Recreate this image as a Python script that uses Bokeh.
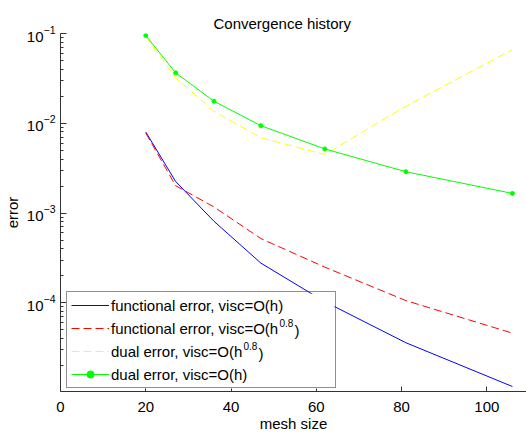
import math
from bokeh.plotting import figure
from bokeh.models import Range1d, FixedTicker, Legend, LegendItem, Label, BoxAnnotation
from bokeh.embed import file_html
from bokeh.resources import INLINE

# ---- data ----
mesh_size = [20, 27, 36, 47, 62, 81, 106]
functional_visc_h = [8.0e-3, 2.25e-3, 8.1e-4, 2.77e-4, 1.03e-4, 3.6e-5, 1.17e-5]
functional_visc_h08 = [7.8e-3, 2.02e-3, 1.17e-3, 5.2e-4, 2.5e-4, 1.06e-4, 4.6e-5]
dual_visc_h08 = [9.3e-2, 3.2e-2, 1.36e-2, 6.9e-3, 4.5e-3, 1.55e-2, 6.6e-2]
dual_visc_h = [9.5e-2, 3.65e-2, 1.76e-2, 9.4e-3, 5.18e-3, 2.89e-3, 1.655e-3]

x_ticks = [0, 20, 40, 60, 80, 100]
y_ticks = [1e-5, 1e-4, 1e-3, 1e-2, 1e-1]
y_minor = [k * t for t in [1e-5, 1e-4, 1e-3, 1e-2] for k in range(2, 10)]

title_text = "Convergence history"
x_label = "mesh size"
y_label = "error"
legend_labels = ["functional error, visc=O(h)", "functional error, visc=O(h",
                 "dual error, visc=O(h", "dual error, visc=O(h)"]
sup_text = "0.8"

FONT = "Liberation Sans"
X0, X1 = 0, 109.3
Y0, Y1 = 1.03e-5, 0.1

# layout (pixels)
W, H = 526, 434
B_LEFT, B_RIGHT, B_TOP, B_BOTTOM = 60, 0, 33, 42
FRAME_W = W - B_LEFT - B_RIGHT
FRAME_H = H - B_TOP - B_BOTTOM

LEG_X, LEG_Y = 6, 3            # legend bottom-left, px from frame bottom-left
LEG_PAD, LEG_GW, LEG_GH, LEG_SP, LEG_LW, LEG_ST = 4, 38, 18, 5, 220, 2
LEG_W = 2 * LEG_PAD + LEG_GW + LEG_ST + LEG_LW
LEG_H = 2 * LEG_PAD + 4 * LEG_GH + 3 * LEG_SP


def px_to_x(px):
    return X0 + px * (X1 - X0) / FRAME_W


def px_to_y(py):
    l0, l1 = math.log10(Y0), math.log10(Y1)
    return 10 ** (l0 + py * (l1 - l0) / FRAME_H)


p = figure(width=W, height=H, x_range=Range1d(X0, X1), y_range=Range1d(Y0, Y1),
           y_axis_type="log", output_backend="svg", toolbar_location=None,
           min_border_left=B_LEFT, min_border_right=B_RIGHT,
           min_border_top=B_TOP, min_border_bottom=B_BOTTOM)

p.outline_line_color = None
p.grid.visible = False
p.background_fill_color = "white"
p.border_fill_color = "white"

# title
p.title.text = title_text
p.title.text_font = FONT
p.title.text_font_size = "15px"
p.title.text_font_style = "normal"
p.title.text_color = "black"
p.title.align = "left"
p.title.offset = 153
p.title.standoff = 4

# axes
for ax in (p.xaxis[0], p.yaxis[0]):
    ax.axis_line_color = "#333333"
    ax.major_tick_line_color = "#333333"
    ax.minor_tick_line_color = "#333333"
    ax.major_label_text_font = FONT
    ax.major_label_text_font_size = "15px"
    ax.major_label_text_color = "black"
    ax.axis_label_text_font = FONT
    ax.axis_label_text_font_size = "15px"
    ax.axis_label_text_font_style = "normal"
    ax.axis_label_text_color = "black"
    ax.major_tick_out = 0

p.xaxis.ticker = FixedTicker(ticks=x_ticks)
p.xaxis.major_tick_in = 5
p.xaxis.minor_tick_line_color = None
p.xaxis.major_label_standoff = 10
p.xaxis.axis_label = x_label
p.xaxis.axis_label_standoff = 0

p.yaxis.ticker = FixedTicker(ticks=y_ticks, minor_ticks=y_minor)
p.yaxis.major_tick_in = 6
p.yaxis.minor_tick_in = 3
p.yaxis.minor_tick_out = 0
p.yaxis.major_label_standoff = 5
p.yaxis.axis_label = y_label
p.yaxis.axis_label_standoff = 3

# series
r1 = p.line(mesh_size, functional_visc_h, line_color="#0000ff", line_width=1)
r2 = p.line(mesh_size, functional_visc_h08, line_color="#ff0000", line_width=1, line_dash="8 4")
r3 = p.line(mesh_size, dual_visc_h08, line_color="#ffff00", line_width=1, line_dash="8 4")
r4 = p.line(mesh_size, dual_visc_h, line_color="#00ff00", line_width=1)
r4m = p.scatter(mesh_size, dual_visc_h, size=4, fill_color="#00ff00", line_color="#00ff00")

# white backing for the legend (lines pass behind it)
p.add_layout(BoxAnnotation(left=px_to_x(LEG_X), right=px_to_x(LEG_X + LEG_W),
                           bottom=px_to_y(LEG_Y), top=px_to_y(LEG_Y + LEG_H),
                           fill_color="white", fill_alpha=1, line_color=None,
                           level="annotation"))

legend = Legend(items=[
    LegendItem(label=legend_labels[0], renderers=[r1]),
    LegendItem(label=legend_labels[1], renderers=[r2]),
    LegendItem(label=legend_labels[2], renderers=[r3]),
    LegendItem(label=legend_labels[3], renderers=[r4, r4m]),
], location=(LEG_X, LEG_Y))
legend.padding = LEG_PAD
legend.margin = 0
legend.spacing = LEG_SP
legend.glyph_width = LEG_GW
legend.glyph_height = LEG_GH
legend.label_height = LEG_GH
legend.label_standoff = LEG_ST
legend.label_width = LEG_LW
legend.label_text_font = FONT
legend.label_text_font_size = "15px"
legend.label_text_color = "black"
legend.border_line_color = "#222222"
legend.border_line_width = 1
legend.background_fill_alpha = 0
p.add_layout(legend)

# superscripts and closing parentheses for the two h^0.8 entries
# (offsets in screen pixels from the bottom-left corner of the frame, up is positive)
def add_sup(x_off_sup, x_off_par, base_off):
    p.add_layout(Label(x=X0, y=Y0, x_offset=x_off_sup, y_offset=base_off + 8, text=sup_text,
                       text_font=FONT, text_font_size="10px", text_color="black",
                       text_baseline="alphabetic", text_align="left"))
    p.add_layout(Label(x=X0, y=Y0, x_offset=x_off_par, y_offset=base_off, text=")",
                       text_font=FONT, text_font_size="15px", text_color="black",
                       text_baseline="alphabetic", text_align="left"))

add_sup(219, 234, 61)
add_sup(183, 198, 38)

open("out.html", "w").write(file_html(p, INLINE))
